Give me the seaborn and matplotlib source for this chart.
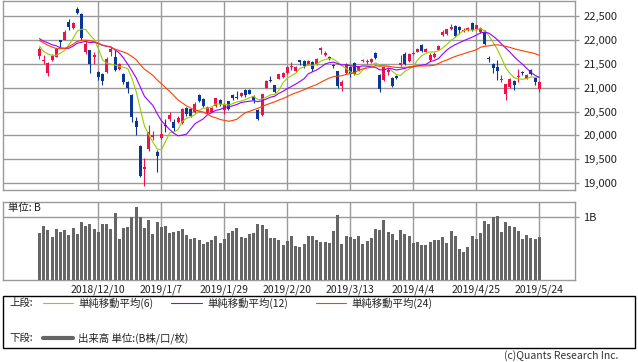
import numpy as np
import pandas as pd
import matplotlib
matplotlib.use("Agg")
import matplotlib.pyplot as plt
import seaborn as sns
from matplotlib.patches import Rectangle
from matplotlib.lines import Line2D
from matplotlib.ticker import FuncFormatter

sns.set_theme(style="white")
plt.rcParams['font.family'] = ['Noto Sans CJK JP', 'DejaVu Sans']

# ---------------- data ----------------
dates = [
    "2018/11/19", "2018/11/20", "2018/11/21", "2018/11/22", "2018/11/26", "2018/11/27", "2018/11/28",
    "2018/11/29", "2018/11/30", "2018/12/3", "2018/12/4", "2018/12/5", "2018/12/6", "2018/12/7",
    "2018/12/10", "2018/12/11", "2018/12/12", "2018/12/13", "2018/12/14", "2018/12/17", "2018/12/18",
    "2018/12/19", "2018/12/20", "2018/12/21", "2018/12/25", "2018/12/26", "2018/12/27", "2018/12/28",
    "2019/1/4", "2019/1/7", "2019/1/8", "2019/1/9", "2019/1/10", "2019/1/11", "2019/1/15", "2019/1/16",
    "2019/1/17", "2019/1/18", "2019/1/21", "2019/1/22", "2019/1/23", "2019/1/24", "2019/1/25",
    "2019/1/28", "2019/1/29", "2019/1/30", "2019/1/31",
    "2019/2/1", "2019/2/4", "2019/2/5", "2019/2/6", "2019/2/7", "2019/2/8", "2019/2/12", "2019/2/13",
    "2019/2/14", "2019/2/15", "2019/2/18", "2019/2/19", "2019/2/20", "2019/2/21", "2019/2/22",
    "2019/2/25", "2019/2/26", "2019/2/27", "2019/2/28",
    "2019/3/1", "2019/3/4", "2019/3/5", "2019/3/6", "2019/3/7", "2019/3/8", "2019/3/11", "2019/3/12",
    "2019/3/13", "2019/3/14", "2019/3/15", "2019/3/18", "2019/3/19", "2019/3/20", "2019/3/22",
    "2019/3/25", "2019/3/26", "2019/3/27", "2019/3/28", "2019/3/29",
    "2019/4/1", "2019/4/2", "2019/4/3", "2019/4/4", "2019/4/5", "2019/4/8", "2019/4/9", "2019/4/10",
    "2019/4/11", "2019/4/12", "2019/4/15", "2019/4/16", "2019/4/17", "2019/4/18", "2019/4/19",
    "2019/4/22", "2019/4/23", "2019/4/24", "2019/4/25", "2019/4/26",
    "2019/5/7", "2019/5/8", "2019/5/9", "2019/5/10", "2019/5/13", "2019/5/14", "2019/5/15",
    "2019/5/16", "2019/5/17", "2019/5/20", "2019/5/21", "2019/5/22", "2019/5/23", "2019/5/24",
]

opens = [
    21664, 21560, 21300, 21580, 21650, 21990, 22010, 22375, 22260, 22650, 22550, 21750, 21780, 21650,
    21330, 21280, 21330, 21750, 21640, 21400, 21290, 21120, 20840, 20310, 19785, 19302, 19706, 19957,
    19655, 19944, 20224, 20340, 20270, 20280, 20250, 20580, 20560, 20490, 20850, 20760, 20460, 20500,
    20610, 20750, 20530, 20710, 20850,
    20810, 20820, 20960, 20960, 20820, 20540, 20420, 21000, 21160, 21050, 21190, 21230, 21310, 21440,
    21350, 21573, 21560, 21490, 21540,
    21490, 21790, 21690, 21640, 21480, 21350, 21030, 21300, 21430, 21510, 21370, 21560, 21540, 21540,
    21720, 21270, 21160, 21330, 21210, 21245,
    21470, 21700, 21560, 21700, 21750, 21900, 21750, 21580, 21645, 21790, 22100, 22120, 22220, 22300,
    22280, 22190, 22200, 22350, 22220, 22170,
    22170, 21630, 21500, 21440, 21170, 20870, 21020, 21150, 21230, 21330, 21190, 21380, 21200, 20965,
]
highs = [
    21860, 21680, 21540, 21700, 21830, 22010, 22210, 22440, 22370, 22700, 22570, 21990, 21800, 21750,
    21350, 21300, 21640, 21860, 21780, 21520, 21310, 21150, 20870, 20380, 19800, 19530, 20211, 20084,
    19700, 20266, 20347, 20494, 20345, 20400, 20580, 20600, 20570, 20700, 20870, 20780, 20620, 20600,
    20780, 20760, 20680, 20720, 20870,
    20940, 20900, 20980, 20980, 20840, 20550, 20870, 21170, 21240, 21060, 21290, 21330, 21450, 21538,
    21450, 21590, 21570, 21580, 21560,
    21630, 21860, 21760, 21660, 21500, 21360, 21160, 21510, 21450, 21530, 21460, 21610, 21600, 21620,
    21740, 21280, 21440, 21440, 21220, 21260,
    21680, 21750, 21730, 21770, 21830, 21910, 21830, 21720, 21740, 21890, 22210, 22230, 22330, 22310,
    22290, 22250, 22270, 22380, 22310, 22270,
    22200, 21660, 21510, 21580, 21260, 21080, 21200, 21160, 21400, 21360, 21280, 21390, 21220, 21130,
]
lows = [
    21600, 21500, 21243, 21560, 21640, 21860, 21990, 22210, 22230, 22540, 22000, 21700, 21300, 21490,
    21170, 21050, 21310, 21660, 21350, 21380, 21080, 20880, 20280, 20006, 19117, 18948, 19680, 19900,
    19241, 19920, 20060, 20300, 20100, 20260, 20240, 20400, 20380, 20470, 20700, 20600, 20440, 20480,
    20600, 20620, 20450, 20530, 20750,
    20760, 20800, 20800, 20860, 20670, 20315, 20400, 20990, 21110, 20880, 21180, 21200, 21290, 21370,
    21330, 21480, 21420, 21480, 21360,
    21470, 21710, 21660, 21570, 21420, 21000, 20940, 21280, 21230, 21260, 21340, 21530, 21500, 21520,
    21600, 20910, 21150, 21260, 21020, 21190,
    21450, 21470, 21540, 21680, 21740, 21740, 21740, 21560, 21630, 21780, 22090, 22110, 22200, 22070,
    22130, 22170, 22180, 22190, 22200, 22150,
    21900, 21530, 21310, 21160, 21120, 20751, 21000, 20950, 21120, 21270, 21180, 21270, 21060, 20910,
]
closes = [
    21821, 21583, 21507, 21665, 21812, 21952, 22177, 22262, 22351, 22574, 22036, 21919, 21501, 21678,
    21219, 21148, 21602, 21816, 21374, 21506, 21115, 20988, 20392, 20166, 19155, 19327, 20077, 20014,
    19561, 20038, 20204, 20427, 20163, 20359, 20555, 20442, 20402, 20666, 20719, 20623, 20593, 20574,
    20773, 20649, 20664, 20556, 20773,
    20788, 20883, 20844, 20874, 20751, 20333, 20864, 21144, 21139, 20900, 21281, 21302, 21431, 21464,
    21425, 21528, 21449, 21556, 21385,
    21602, 21822, 21726, 21596, 21456, 21025, 21125, 21503, 21290, 21287, 21450, 21584, 21566, 21608,
    21627, 20977, 21428, 21378, 21033, 21205,
    21509, 21505, 21713, 21725, 21807, 21761, 21802, 21687, 21711, 21870, 22169, 22221, 22278, 22090,
    22200, 22218, 22259, 22200, 22307, 22258,
    21923, 21602, 21402, 21344, 21191, 21067, 21188, 21062, 21250, 21301, 21272, 21283, 21120, 21117,
]
# closes of the 23 sessions before the first candle (for the moving averages)
prior_closes = [
    22841, 22658, 22532, 22614, 22010, 22091, 21268, 21184, 21149, 21457, 21920, 21687,
    22243, 21898, 22147, 22085, 22486, 22250, 22269, 21810, 21846, 21803, 21680,
]
volume = [
    0.75, 0.86, 0.80, 0.69, 0.81, 0.77, 0.80, 0.72, 0.83, 0.73, 0.93, 0.86, 0.90, 0.81,
    0.77, 0.89, 0.89, 0.81, 1.07, 0.65, 0.83, 0.85, 1.00, 1.17, 1.00, 0.83, 0.96, 0.73,
    0.93, 0.85, 0.86, 0.75, 0.77, 0.78, 0.81, 0.72, 0.65, 0.67, 0.64, 0.57, 0.61, 0.64,
    0.70, 0.59, 0.65, 0.75, 0.78,
    0.83, 0.69, 0.67, 0.73, 0.75, 0.89, 0.88, 0.81, 0.67, 0.67, 0.64, 0.56, 0.62, 0.70,
    0.54, 0.53, 0.57, 0.70, 0.70,
    0.64, 0.61, 0.61, 0.59, 0.78, 1.04, 0.57, 0.70, 0.69, 0.65, 0.70, 0.57, 0.62, 0.67,
    0.81, 0.80, 0.96, 0.77, 0.73, 0.64,
    0.80, 0.73, 0.70, 0.59, 0.61, 0.56, 0.56, 0.61, 0.64, 0.64, 0.69, 0.59, 0.78, 0.70,
    0.50, 0.45, 0.53, 0.70, 0.65, 0.75,
    0.94, 0.89, 1.00, 1.02, 0.77, 0.93, 0.86, 0.85, 0.78, 0.65, 0.72, 0.67, 0.65, 0.69,
]
tick_labels = ["2018/12/10", "2019/1/7", "2019/1/29", "2019/2/20",
               "2019/3/13", "2019/4/4", "2019/4/25", "2019/5/24"]
price_ticks = [19000, 19500, 20000, 20500, 21000, 21500, 22000, 22500]
ma_windows = [6, 12, 24]
legend_labels = ["単純移動平均(6)", "単純移動平均(12)", "単純移動平均(24)"]

# ---------------- derived ----------------
n = len(dates)
x = np.arange(n)
O = np.array(opens, float)
Hh = np.array(highs, float)
L = np.array(lows, float)
C = np.array(closes, float)
full_close = pd.Series(prior_closes + closes, dtype=float)
mas = [full_close.rolling(w).mean().to_numpy()[-n:] for w in ma_windows]
tick_pos = [dates.index(t) for t in tick_labels]

UP = "#F0104A"
DOWN = "#0A3796"
MA_COLORS = ["#99CC00", "#9900FF", "#FF4000"]
GRID = "#9A9A9A"

W, H = 638, 362
fig = plt.figure(figsize=(W / 100, H / 100), dpi=100)
fig.patch.set_facecolor("white")


def rect(l, t, r, b):
    return [l / W, 1 - b / H, (r - l) / W, (b - t) / H]


ax = fig.add_axes(rect(3, 0.5, 575, 190))
axv = fig.add_axes(rect(3, 202, 575, 280))

xlim = ((3 - 39.5) / 4.2, (575 - 39.5) / 4.2)

# ---- candles ----
col = np.where(C >= O, UP, DOWN)
ax.vlines(x, L, Hh, colors=col, linewidth=0.8, zorder=3)
body_bottom = np.minimum(O, C)
body_h = np.maximum(np.abs(C - O), 14)
ax.bar(x, body_h, bottom=body_bottom, width=0.72, color=col, linewidth=0, zorder=3)

# ---- moving averages ----
for ma, c in zip(mas, MA_COLORS):
    sns.lineplot(x=x, y=ma, ax=ax, color=c, linewidth=0.8, zorder=4)

ax.set_xlim(*xlim)
ax.set_ylim(18854, 22828)
ax.set_yticks(price_ticks)
ax.set_xticks(tick_pos)
ax.grid(True, color=GRID, linewidth=1.0, zorder=0)
ax.set_axisbelow(True)
ax.yaxis.tick_right()
ax.yaxis.set_major_formatter(FuncFormatter(lambda v, p: f"{int(v):,}"))
ax.tick_params(axis="y", which="both", right=True, left=False, length=3, width=1,
               color=GRID, pad=3, labelsize=8, labelcolor="#222222")
ax.tick_params(axis="x", bottom=False, labelbottom=False)
ax.set_xlabel("")
ax.set_ylabel("")
for s in ax.spines.values():
    s.set_color(GRID)
    s.set_linewidth(1.0)

# ---- volume ----
vol_df = pd.DataFrame({"x": x, "v": volume})
sns.barplot(data=vol_df, x="x", y="v", ax=axv, native_scale=True, color="#666666",
            width=0.68, saturation=1, linewidth=0, errorbar=None, zorder=3)
axv.set_xlim(*xlim)
axv.set_ylim(0, 1.244)
axv.set_yticks([1.0])
axv.set_yticklabels(["1B"])
axv.set_xticks(tick_pos)
axv.set_xticklabels(tick_labels)
axv.grid(True, color=GRID, linewidth=1.0, zorder=0)
axv.set_axisbelow(True)
axv.yaxis.tick_right()
axv.tick_params(axis="y", right=True, left=False, length=3, width=1, color=GRID,
                pad=3, labelsize=8, labelcolor="#222222")
axv.tick_params(axis="x", bottom=False, length=0, pad=3, labelsize=7.5, labelcolor="#222222")
axv.set_xlabel("")
axv.set_ylabel("")
for s in axv.spines.values():
    s.set_color(GRID)
    s.set_linewidth(1.0)

fig.text(8 / W, 1 - 208 / H, "単位: B", ha="left", va="center", fontsize=7.5, color="#222222")

# ---- legend box ----
fig.add_artist(Rectangle((3 / W, 1 - 348 / H), (635 - 3) / W, (348 - 296) / H,
                         transform=fig.transFigure, fill=False, edgecolor="black", linewidth=1))
y1 = 1 - 303 / H
y2 = 1 - 338 / H
fig.text(9 / W, y1, "上段:", ha="left", va="center", fontsize=7.5, color="#222222")
seg = [(43, 73, 78), (171, 202, 207), (316, 346, 351)]
for (a, b, t), c, lab in zip(seg, MA_COLORS, legend_labels):
    fig.add_artist(Line2D([a / W, b / W], [y1, y1], transform=fig.transFigure, color=c, linewidth=0.8))
    fig.text(t / W, y1, lab, ha="left", va="center", fontsize=7.5, color="#222222")
fig.text(9 / W, y2, "下段:", ha="left", va="center", fontsize=7.5, color="#222222")
fig.add_artist(Line2D([43 / W, 73 / W], [y2, y2], transform=fig.transFigure, color="#666666", linewidth=3))
fig.text(78 / W, y2, "出来高 単位:(B株/口/枚)", ha="left", va="center", fontsize=7.5, color="#222222")

fig.text(618 / W, 1 - 356 / H, "(c)Quants Research Inc.", ha="right", va="center",
         fontsize=7.5, color="#333333")

fig.savefig("out.png", dpi=100, facecolor="white")
